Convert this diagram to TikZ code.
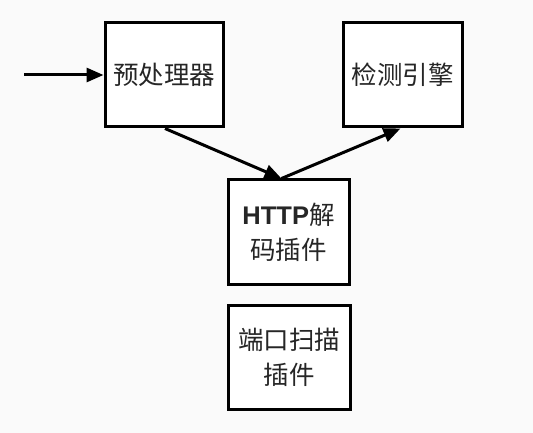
\documentclass[tikz,border=0pt]{standalone}
\usepackage{fontspec}
\setmainfont{Noto Sans CJK SC}
\newfontfamily\latinbold{Liberation Sans}
\usetikzlibrary{arrows.meta}
\definecolor{bg}{HTML}{FAFAFA}
\begin{document}
\begin{tikzpicture}[x=1pt,y=-1pt,
  box/.style={draw=black,line width=3pt,fill=white,inner sep=0pt,
    font=\fontsize{25.5}{35}\selectfont,align=center,text=black!85},
  conn/.style={line width=3pt,-{Triangle[length=17pt,width=14pt]}}]
\fill[bg] (0,0) rectangle (533,433);
\useasboundingbox (0,0) rectangle (533,433);
\node[box,minimum width=118pt,minimum height=104pt] (pre) at (164,75) {预处理器};
\node[box,minimum width=119pt,minimum height=104pt] (det) at (402.5,75) {检测引擎};
\node[box,minimum width=121pt,minimum height=104pt] (http) at (288.5,232) {{\latinbold\bfseries HTTP}解\\码插件};
\node[box,minimum width=122pt,minimum height=104pt] (port) at (289,357.5) {端口扫描\\插件};
\coordinate (in) at (24,75);
\draw[conn] (in) -- (pre.west);
\draw[conn] ([xshift=1pt]pre.south) -- ([xshift=-7pt]http.north);
\draw[conn] ([xshift=-7pt]http.north) -- ([xshift=-2pt]det.south);
\end{tikzpicture}
\end{document}
